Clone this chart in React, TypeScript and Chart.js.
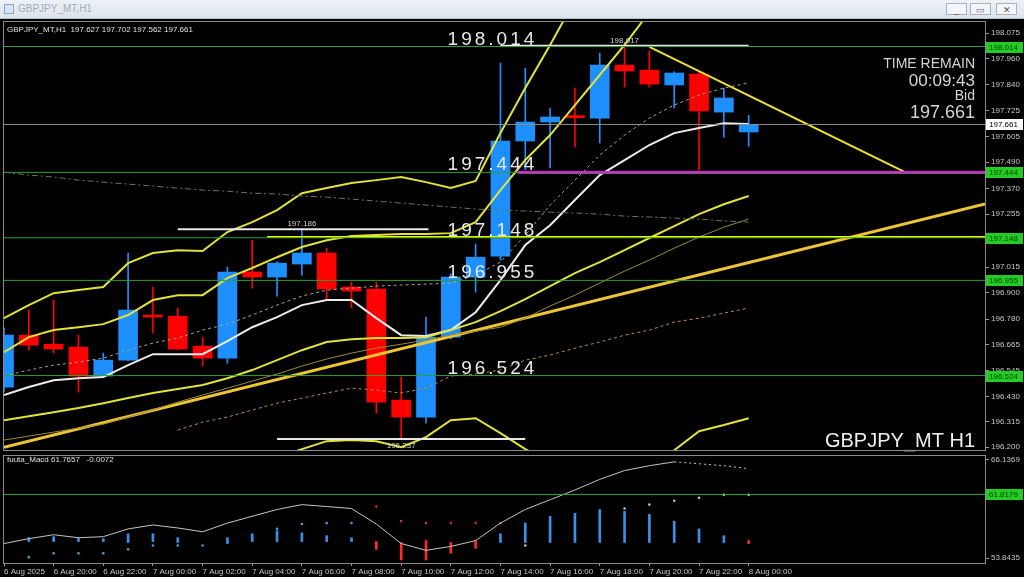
import React, { useEffect, useRef } from "react";
import { Chart, registerables } from "chart.js";
Chart.register(...registerables);

// ---------------- data ----------------
const X_LABELS = [
  "6 Aug 2025", "6 Aug 20:00", "6 Aug 22:00", "7 Aug 00:00", "7 Aug 02:00", "7 Aug 04:00",
  "7 Aug 06:00", "7 Aug 08:00", "7 Aug 10:00", "7 Aug 12:00", "7 Aug 14:00", "7 Aug 16:00",
  "7 Aug 18:00", "7 Aug 20:00", "7 Aug 22:00", "8 Aug 00:00",
];
const OPEN = [196.472, 196.707, 196.666, 196.653, 196.522, 196.594, 196.797, 196.793, 196.657, 196.603, 196.993, 196.970, 197.029, 197.079, 196.925, 196.916, 196.413, 196.336, 196.698, 196.970, 197.065, 197.586, 197.672, 197.699, 197.690, 197.930, 197.907, 197.840, 197.889, 197.717, 197.627];
const HIGH = [196.740, 196.820, 196.866, 196.707, 196.626, 197.079, 196.925, 196.830, 196.698, 197.015, 197.137, 197.040, 197.186, 197.101, 196.947, 196.947, 196.517, 196.789, 196.985, 197.119, 197.939, 197.916, 197.735, 197.826, 197.984, 198.017, 197.995, 197.900, 197.900, 197.826, 197.702];
const LOW = [196.450, 196.640, 196.626, 196.449, 196.515, 196.590, 196.716, 196.640, 196.567, 196.580, 196.920, 196.884, 196.979, 196.866, 196.830, 196.354, 196.237, 196.309, 196.690, 196.902, 197.047, 197.455, 197.464, 197.559, 197.577, 197.830, 197.830, 197.735, 197.455, 197.604, 197.562];
const CLOSE = [196.707, 196.662, 196.644, 196.522, 196.594, 196.820, 196.789, 196.644, 196.603, 196.993, 196.970, 197.033, 197.079, 196.916, 196.907, 196.404, 196.336, 196.698, 196.970, 197.060, 197.586, 197.672, 197.695, 197.692, 197.930, 197.903, 197.844, 197.894, 197.722, 197.781, 197.661];

const BAND_UPPER_OUTER = [196.784, 196.843, 196.897, 196.911, 196.925, 197.033, 197.079, 197.092, 197.088, 197.174, 197.219, 197.273, 197.350, 197.373, 197.396, 197.409, 197.423, 197.400, 197.373, 197.405, 197.622, 197.826, 198.021, 198.224, 198.406, null, null, null, null, null, null];
const BAND_UPPER_INNER = [196.630, 196.698, 196.730, 196.743, 196.757, 196.798, 196.866, 196.888, 196.888, 196.965, 197.011, 197.060, 197.106, 197.137, 197.156, 197.160, 197.165, 197.165, 197.169, 197.219, 197.364, 197.500, 197.613, 197.749, 197.885, 198.021, 198.170, 198.315, null, null, null];
const SMA_MID = [196.436, 196.472, 196.503, 196.512, 196.517, 196.571, 196.621, 196.621, 196.621, 196.680, 196.743, 196.789, 196.843, 196.866, 196.866, 196.784, 196.707, 196.703, 196.730, 196.811, 196.956, 197.115, 197.205, 197.319, 197.432, 197.500, 197.568, 197.622, 197.645, 197.667, 197.663];
const EMA_DASHED = [196.522, 196.549, 196.571, 196.585, 196.603, 196.639, 196.671, 196.694, 196.730, 196.757, 196.798, 196.843, 196.884, 196.911, 196.920, 196.929, 196.934, 196.938, 196.943, 196.979, 197.038, 197.160, 197.296, 197.409, 197.522, 197.613, 197.690, 197.749, 197.794, 197.826, 197.849];
const LOWER_DASHED = [null, null, null, null, null, null, null, 196.277, 196.313, 196.336, 196.368, 196.399, 196.422, 196.445, 196.467, 196.458, 196.445, 196.467, 196.522, 196.531, 196.549, 196.594, 196.617, 196.648, 196.676, 196.707, 196.730, 196.766, 196.784, 196.807, 196.830];
const BAND_LOWER_INNER = [196.322, 196.340, 196.358, 196.377, 196.399, 196.422, 196.445, 196.463, 196.481, 196.512, 196.549, 196.594, 196.639, 196.676, 196.689, 196.694, 196.694, 196.698, 196.730, 196.766, 196.816, 196.870, 196.929, 196.988, 197.038, 197.092, 197.147, 197.201, 197.255, 197.300, 197.337];
const LONG_MA = [196.232, 196.250, 196.268, 196.286, 196.304, 196.336, 196.368, 196.404, 196.436, 196.467, 196.499, 196.531, 196.567, 196.599, 196.626, 196.648, 196.666, 196.685, 196.707, 196.725, 196.743, 196.784, 196.839, 196.888, 196.943, 196.997, 197.047, 197.101, 197.151, 197.196, 197.233];
const BAND_LOWER_OUTER = [null, null, null, null, null, null, null, null, null, null, null, 196.150, 196.191, 196.227, 196.232, 196.227, 196.200, 196.245, 196.322, 196.331, 196.263, 196.191, 196.132, 196.096, 196.096, 196.096, 196.096, 196.186, 196.272, 196.300, 196.331];
const TREND_MA = [197.445, 197.432, 197.423, 197.409, 197.400, 197.391, 197.382, 197.373, 197.364, 197.359, 197.350, 197.346, 197.337, 197.332, 197.323, 197.314, 197.305, 197.296, 197.287, 197.278, 197.273, 197.269, 197.264, 197.260, 197.255, 197.246, 197.242, 197.237, 197.233, 197.224, 197.219];

const Y_TICKS = [198.075, 197.960, 197.840, 197.725, 197.605, 197.490, 197.370, 197.255, 197.135, 197.015, 196.900, 196.780, 196.665, 196.545, 196.430, 196.315, 196.200];
const GREEN_LEVELS = [198.014, 197.444, 197.148, 196.955, 196.524];
const BID = 197.661;
const MAGENTA_LEVEL = 197.444;
const YELLOW_LEVEL = 197.152;
const HL_MARKS = [
  { v: 197.186, from: 7.0, to: 17.1, label: "197.186", at: 12, below: false },
  { v: 198.017, from: 20.0, to: 30.0, label: "198.017", at: 25, below: false },
  { v: 196.237, from: 11.0, to: 21.0, label: "196.237", at: 16, below: true },
];
const TREND_UP = [{ x: 0, y: 196.199 }, { x: 39.52, y: 197.301 }];
const TREND_DOWN = [{ x: 26.0, y: 198.012 }, { x: 36.38, y: 197.441 }];

const MACD_LINE = [55.67, 56.28, 56.77, 56.40, 56.53, 57.50, 57.99, 57.62, 57.14, 58.23, 59.08, 59.93, 60.54, 60.30, 60.05, 58.11, 55.67, 54.82, 55.31, 56.04, 58.23, 59.93, 61.15, 62.37, 63.70, 64.80, 65.41, 65.89, 65.65, 65.41, 65.04];
const MACD_HIST_LO = [null, 55.92, 55.92, 55.92, 55.92, 55.80, 55.92, 55.80, null, 55.67, 55.92, 55.92, 55.92, 55.92, 55.92, 54.94, 53.61, 53.61, 54.46, 55.07, 55.80, 55.80, 55.80, 55.80, 55.80, 55.80, 55.80, 55.80, 55.80, 55.80, 55.67];
const MACD_HIST_HI = [null, 56.40, 56.53, 56.40, 56.28, 56.89, 56.89, 56.40, null, 56.40, 56.89, 57.26, 57.01, 56.65, 56.40, 55.92, 55.80, 56.04, 55.80, 56.04, 56.89, 58.23, 59.08, 59.45, 59.93, 59.69, 59.32, 58.47, 57.50, 56.65, 56.04];
const MACD_HIST_SIDE = ["b", "b", "b", "b", "b", "b", "b", "b", "b", "b", "b", "b", "b", "b", "b", "r", "r", "r", "r", "r", "b", "b", "b", "b", "b", "b", "b", "b", "b", "b", "r"];
const MACD_DOTS = [null, 53.97, 54.46, 54.46, 54.46, 54.94, 55.43, 55.43, 55.43, null, null, 57.50, 58.11, 58.23, 58.23, 60.30, 58.47, 58.23, 58.23, 58.23, 58.23, 55.43, null, null, null, 60.05, 60.54, 61.03, 61.39, 61.76, 61.76];
const MACD_DOT_SIDE = ["b", "b", "b", "b", "b", "b", "b", "b", "b", "b", "b", "b", "b", "b", "b", "r", "r", "r", "r", "r", "r", "g", "g", "g", "g", "g", "g", "g", "g", "g", "g"];
const MACD_LEVEL = 61.8179;
const MACD_TICKS = [53.8435, 66.1369];

// --------------- style constants ---------------
const FONT = '"Liberation Sans", Arial, sans-serif';
const X_MAX = 39.52;
const BULL = "#1e8fff";
const BEAR = "#ff0000";
const GREEN = "#2f9f2f";
const AXIS_TXT = "#c8c8c8";
const BORDER = "#8a8a8a";

const pts = (arr: (number | null)[]) =>
  arr.map((v, i) => (v === null ? null : { x: i, y: v })).filter((p) => p !== null);
const seg = (x0: number, x1: number, v: number) => [{ x: x0, y: v }, { x: x1, y: v }];
const lineDs = (data: any, color: string, width: number, dash: number[] = [], order = 1) => ({
  type: "line",
  data,
  borderColor: color,
  borderWidth: width,
  borderDash: dash,
  pointRadius: 0,
  fill: false,
  tension: 0,
  order,
});

function box(ctx: CanvasRenderingContext2D, y: number, text: string, bg: string, fg: string) {
  ctx.fillStyle = bg;
  ctx.fillRect(986, Math.round(y) - 5, 37, 11);
  ctx.fillStyle = fg;
  ctx.font = `8px ${FONT}`;
  ctx.textAlign = "left";
  ctx.textBaseline = "middle";
  ctx.fillText(text, 989, Math.round(y) + 0.5);
}

const noPadV = (s: any) => { s.width = 39; s.paddingTop = 0; s.paddingBottom = 0; };

function MainChart() {
  const ref = useRef<HTMLCanvasElement>(null);
  useEffect(() => {
    const colors = CLOSE.map((c, i) => (c >= OPEN[i] ? BULL : BEAR));
    const decor = {
      id: "mainDecor",
      afterDatasetsDraw(chart: any) {
        const { ctx, scales } = chart;
        const x = scales.x;
        const y = scales.y;
        ctx.save();
        ctx.font = `19px ${FONT}`;
        (ctx as any).letterSpacing = "3px";
        ctx.fillStyle = "#e8e8e8";
        ctx.textAlign = "left";
        ctx.textBaseline = "alphabetic";
        GREEN_LEVELS.forEach((lv) => {
          ctx.fillText(lv.toFixed(3), x.getPixelForValue(17.87), y.getPixelForValue(lv) - 2);
        });
        (ctx as any).letterSpacing = "0px";
        ctx.font = `8px ${FONT}`;
        ctx.fillStyle = "#d0d0d0";
        ctx.textAlign = "center";
        HL_MARKS.forEach((m) => {
          const py = y.getPixelForValue(m.v);
          ctx.fillText(m.label, x.getPixelForValue(m.at), m.below ? py + 9 : py - 3);
        });
        ctx.textAlign = "left";
        ctx.fillStyle = "#e0e0e0";
        ctx.fillText("GBPJPY_MT,H1  197.627 197.702 197.562 197.661", 7, 13);
        ctx.textAlign = "right";
        ctx.fillStyle = "#d4d4d4";
        ctx.font = `14px ${FONT}`;
        ctx.fillText("TIME REMAIN", 975, 49);
        ctx.font = `17px ${FONT}`;
        ctx.fillText("00:09:43", 975, 67);
        ctx.font = `14px ${FONT}`;
        ctx.fillText("Bid", 975, 81);
        ctx.font = `18px ${FONT}`;
        ctx.fillText("197.661", 975, 99);
        ctx.font = `20px ${FONT}`;
        ctx.fillStyle = "#f0f0f0";
        ctx.fillText("GBPJPY_MT H1", 975, 428);
        ctx.restore();
      },
      afterDraw(chart: any) {
        const { ctx, chartArea: a, scales } = chart;
        const y = scales.y;
        ctx.save();
        ctx.strokeStyle = BORDER;
        ctx.lineWidth = 1;
        ctx.strokeRect(a.left - 0.5, a.top - 0.5, a.right - a.left + 1, a.bottom - a.top + 1);
        GREEN_LEVELS.forEach((lv) => box(ctx, y.getPixelForValue(lv), lv.toFixed(3), "#22cc22", "#0b3d0b"));
        box(ctx, y.getPixelForValue(BID), BID.toFixed(3), "#ffffff", "#000000");
        ctx.restore();
      },
    };
    const chart = new Chart(ref.current as HTMLCanvasElement, {
      type: "bar",
      data: {
        datasets: [
          {
            type: "bar",
            data: LOW.map((l, i) => ({ x: i, y: [l, HIGH[i]] })),
            backgroundColor: colors,
            barThickness: 1,
            maxBarThickness: 1,
            grouped: false,
            order: 11,
          },
          {
            type: "bar",
            data: OPEN.map((o, i) => ({ x: i, y: [Math.min(o, CLOSE[i]), Math.max(o, CLOSE[i])] })),
            backgroundColor: colors,
            barThickness: 19,
            maxBarThickness: 19,
            minBarLength: 2,
            grouped: false,
            order: 10,
          },
          lineDs(pts(TREND_MA), "#66775a", 1, [6, 3, 2, 3]),
          ...GREEN_LEVELS.map((lv) => lineDs(seg(0, X_MAX, lv), GREEN, 1)),
          lineDs(seg(0, X_MAX, BID), "#8c8c8c", 1),
          lineDs(seg(10.6, X_MAX, YELLOW_LEVEL), "#f2f000", 2),
          lineDs(seg(20.7, X_MAX, MAGENTA_LEVEL), "#ff00ff", 3),
          ...HL_MARKS.map((m) => lineDs(seg(m.from, m.to, m.v), "#e8e8e8", 2)),
          lineDs(pts(LONG_MA), "#9c8a34", 1),
          lineDs(pts(LOWER_DASHED), "#c48a44", 1, [3, 3]),
          lineDs(pts(EMA_DASHED), "#a8a290", 1, [3, 3]),
          lineDs(pts(BAND_LOWER_OUTER), "#e2e23a", 2),
          lineDs(pts(BAND_LOWER_INNER), "#e2e23a", 2),
          lineDs(pts(BAND_UPPER_INNER), "#e2e23a", 2),
          lineDs(pts(BAND_UPPER_OUTER), "#e2e23a", 2),
          lineDs(pts(SMA_MID), "#ececec", 2),
          lineDs(TREND_UP, "#ecc434", 3),
          lineDs(TREND_DOWN, "#f0e22a", 2),
        ] as any,
      },
      options: {
        responsive: false,
        maintainAspectRatio: false,
        animation: false,
        events: [],
        layout: { padding: { left: 4, top: 3, bottom: 2, right: 0 } },
        plugins: { legend: { display: false }, tooltip: { enabled: false } },
        scales: {
          x: { type: "linear", min: 0, max: X_MAX, display: false, offset: false, grid: { offset: false } },
          y: {
            position: "right",
            min: 196.187,
            max: 198.125,
            afterFit: noPadV,
            afterBuildTicks: (s: any) => { s.ticks = Y_TICKS.map((v) => ({ value: v })); },
            ticks: {
              autoSkip: false,
              color: AXIS_TXT,
              padding: 2,
              font: { family: FONT, size: 8 },
              callback: (v: any) => Number(v).toFixed(3),
            },
            grid: { drawOnChartArea: false, drawTicks: true, tickLength: 4, color: "#9a9a9a" },
            border: { display: true, color: "#b0b0b0" },
          },
        },
      } as any,
      plugins: [decor],
    });
    return () => chart.destroy();
  }, []);
  return (
    <canvas
      ref={ref}
      width={1024}
      height={433}
      style={{ position: "absolute", left: 0, top: 19, width: 1024, height: 433, background: "#000" }}
    />
  );
}

function MacdChart() {
  const ref = useRef<HTMLCanvasElement>(null);
  useEffect(() => {
    const histData: any[] = [];
    const histColors: string[] = [];
    MACD_HIST_LO.forEach((lo, i) => {
      const hi = MACD_HIST_HI[i];
      if (lo === null || hi === null) return;
      histData.push({ x: i, y: [lo, hi] });
      histColors.push(MACD_HIST_SIDE[i] === "b" ? "#3a8fe8" : "#ff2a2a");
    });
    const dotData: any[] = [];
    const dotColors: string[] = [];
    MACD_DOTS.forEach((v, i) => {
      if (v === null) return;
      dotData.push({ x: i, y: v });
      const s = MACD_DOT_SIDE[i];
      dotColors.push(s === "b" ? "#3aa6d8" : s === "r" ? "#c83232" : "#a8d0c0");
    });
    const decor = {
      id: "macdDecor",
      afterDraw(chart: any) {
        const { ctx, chartArea: a, scales } = chart;
        ctx.save();
        ctx.strokeStyle = BORDER;
        ctx.lineWidth = 1;
        ctx.strokeRect(a.left - 0.5, a.top - 0.5, a.right - a.left + 1, a.bottom - a.top + 1);
        ctx.font = `8px ${FONT}`;
        ctx.fillStyle = "#e0e0e0";
        ctx.textAlign = "left";
        ctx.textBaseline = "alphabetic";
        ctx.fillText("fuuta_Macd 61.7657   -0.0072", 7, 10);
        box(ctx, scales.y.getPixelForValue(MACD_LEVEL), MACD_LEVEL.toFixed(4), "#22cc22", "#0b3d0b");
        ctx.restore();
      },
    };
    const chart = new Chart(ref.current as HTMLCanvasElement, {
      type: "bar",
      data: {
        datasets: [
          {
            type: "bar",
            data: histData,
            backgroundColor: histColors,
            barThickness: 2,
            maxBarThickness: 2,
            grouped: false,
            order: 5,
          },
          lineDs(seg(0, X_MAX, MACD_LEVEL), "#2fae2f", 1),
          {
            type: "line",
            data: dotData,
            showLine: false,
            pointRadius: 1.3,
            pointBorderWidth: 0,
            pointBackgroundColor: dotColors,
            order: 2,
          },
          {
            ...lineDs(pts(MACD_LINE), "#c4c4c4", 1),
            segment: { borderDash: (c: any) => (c.p0DataIndex >= 27 ? [2, 3] : undefined) },
          },
        ] as any,
      },
      options: {
        responsive: false,
        maintainAspectRatio: false,
        animation: false,
        events: [],
        layout: { padding: { left: 4, top: 1, bottom: 0, right: 0 } },
        plugins: { legend: { display: false }, tooltip: { enabled: false } },
        scales: {
          x: {
            type: "linear",
            min: 0,
            max: X_MAX,
            offset: false,
            position: "bottom",
            afterFit: (s: any) => { s.height = 14; s.paddingLeft = 0; s.paddingRight = 0; },
            afterBuildTicks: (s: any) => { s.ticks = X_LABELS.map((_, k) => ({ value: k * 2 })); },
            ticks: {
              autoSkip: false,
              maxRotation: 0,
              align: "start",
              padding: 1,
              color: AXIS_TXT,
              font: { family: FONT, size: 8 },
              callback: (_v: any, k: number) => X_LABELS[k],
            },
            grid: { drawOnChartArea: false, drawTicks: true, tickLength: 3, color: "#9a9a9a", offset: false },
            border: { display: true, color: "#b0b0b0" },
          },
          y: {
            position: "right",
            min: 53.235,
            max: 66.624,
            afterFit: noPadV,
            afterBuildTicks: (s: any) => { s.ticks = MACD_TICKS.map((v) => ({ value: v })); },
            ticks: {
              autoSkip: false,
              color: AXIS_TXT,
              padding: 2,
              font: { family: FONT, size: 8 },
              callback: (v: any) => Number(v).toFixed(4),
            },
            grid: { drawOnChartArea: false, drawTicks: true, tickLength: 4, color: "#9a9a9a" },
            border: { display: true, color: "#b0b0b0" },
          },
        },
      } as any,
      plugins: [decor],
    });
    return () => chart.destroy();
  }, []);
  return (
    <canvas
      ref={ref}
      width={1024}
      height={125}
      style={{ position: "absolute", left: 0, top: 452, width: 1024, height: 125, background: "#000" }}
    />
  );
}

function TitleBar() {
  const btn = (left: number, glyph: string) => (
    <div
      style={{
        position: "absolute", left, top: 3, width: 21, height: 12, border: "1px solid #a9b1ba",
        background: "#f3f5f8", color: "#555", fontSize: 9, lineHeight: "12px", textAlign: "center",
        fontFamily: FONT, boxSizing: "border-box",
      }}
    >
      {glyph}
    </div>
  );
  return (
    <div
      style={{
        position: "absolute", left: 0, top: 0, width: 1024, height: 19,
        background: "linear-gradient(#eef2f6, #dbe3ec)", borderBottom: "1px solid #b8c0c8", boxSizing: "border-box",
      }}
    >
      <div style={{ position: "absolute", left: 4, top: 4, width: 10, height: 10, border: "1px solid #8aa6c6", background: "#d6e6f6", boxSizing: "border-box" }} />
      <div style={{ position: "absolute", left: 18, top: 3, fontSize: 10, fontFamily: FONT, color: "#a3acb6" }}>GBPJPY_MT,H1</div>
      {btn(946, "_")}
      {btn(970, "▭")}
      {btn(996, "✕")}
    </div>
  );
}

export default function App() {
  return (
    <div style={{ position: "fixed", left: 0, top: 0, width: 1024, height: 577, background: "#000", overflow: "hidden" }}>
      <TitleBar />
      <MainChart />
      <MacdChart />
    </div>
  );
}
